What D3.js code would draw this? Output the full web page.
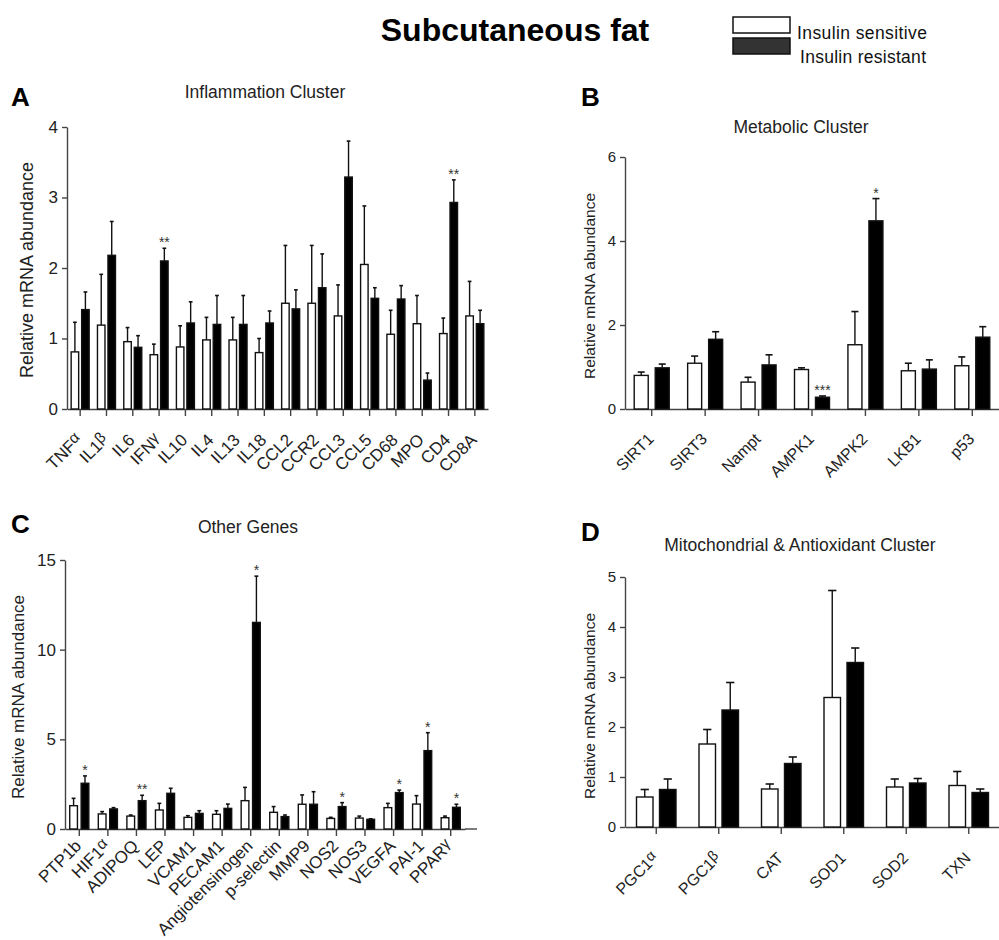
<!DOCTYPE html>
<html>
<head>
<meta charset="utf-8">
<script src="https://cdn.jsdelivr.net/npm/d3@7"></script>
<style>
  html, body { margin: 0; padding: 0; background: #fff; }
  svg { display: block; font-family: "Liberation Sans", Arial, Helvetica, sans-serif; }
</style>
</head>
<body>
<svg id="chart" width="999" height="940"></svg>
<script>
// ---------------- DATA ----------------
const seriesNames = ["Insulin sensitive", "Insulin resistant"];

// Panel A: Inflammation Cluster
const catsA = ["TNFα","IL1β","IL6","IFNγ","IL10","IL4","IL13","IL18","CCL2","CCR2","CCL3","CCL5","CD68","MPO","CD4","CD8A"];
const sensA    = [0.81, 1.19, 0.955, 0.77, 0.88, 0.98, 0.98, 0.80, 1.50, 1.50, 1.32, 2.05, 1.06, 1.21, 1.07, 1.32];
const sensErrA = [0.42, 0.72, 0.20, 0.15, 0.30, 0.32, 0.32, 0.20, 0.82, 0.82, 0.44, 0.83, 0.34, 0.40, 0.22, 0.49];
const resA     = [1.41, 2.18, 0.875, 2.10, 1.22, 1.20, 1.20, 1.22, 1.42, 1.72, 3.29, 1.57, 1.56, 0.41, 2.93, 1.21];
const resErrA  = [0.25, 0.48, 0.165, 0.18, 0.30, 0.41, 0.41, 0.17, 0.27, 0.48, 0.51, 0.15, 0.19, 0.10, 0.32, 0.19];
const starsA   = ["","","","**","","","","","","","","","","","**",""];
const ticksA   = [0, 1, 2, 3, 4];

// Panel B: Metabolic Cluster
const catsB = ["SIRT1","SIRT3","Nampt","AMPK1","AMPK2","LKB1","p53"];
const sensB    = [0.80, 1.09, 0.64, 0.94, 1.53, 0.91, 1.03];
const sensErrB = [0.08, 0.17, 0.115, 0.04, 0.79, 0.18, 0.21];
const resB     = [0.98, 1.66, 1.05, 0.28, 4.48, 0.95, 1.71];
const resErrB  = [0.09, 0.18, 0.24, 0.03, 0.53, 0.22, 0.25];
const starsB   = ["","","","***","*","",""];
const ticksB   = [0, 2, 4, 6];

// Panel C: Other Genes
const catsC = ["PTP1b","HIF1α","ADIPOQ","LEP","VCAM1","PECAM1","Angiotensinogen","p-selectin","MMP9","NOS2","NOS3","VEGFA","PAI-1","PPARγ"];
const sensC    = [1.30, 0.84, 0.72, 1.06, 0.65, 0.82, 1.58, 0.93, 1.38, 0.59, 0.61, 1.19, 1.39, 0.63];
const sensErrC = [0.41, 0.13, 0.06, 0.37, 0.09, 0.20, 0.74, 0.32, 0.52, 0.06, 0.11, 0.24, 0.47, 0.09];
const resC     = [2.55, 1.12, 1.58, 1.99, 0.87, 1.15, 11.52, 0.69, 1.38, 1.25, 0.54, 2.03, 4.37, 1.21];
const resErrC  = [0.41, 0.07, 0.30, 0.28, 0.15, 0.24, 2.58, 0.09, 0.70, 0.22, 0.03, 0.14, 1.00, 0.17];
const starsC   = ["*","","**","","","","*","","","*","","*","*","*"];
const ticksC   = [0, 5, 10, 15];

// Panel D: Mitochondrial & Antioxidant Cluster
const catsD = ["PGC1α","PGC1β","CAT","SOD1","SOD2","TXN"];
const sensD    = [0.60, 1.66, 0.76, 2.59, 0.80, 0.83];
const sensErrD = [0.15, 0.29, 0.10, 2.14, 0.16, 0.28];
const resD     = [0.75, 2.34, 1.27, 3.29, 0.88, 0.69];
const resErrD  = [0.21, 0.55, 0.13, 0.29, 0.09, 0.07];
const starsD   = ["","","","","",""];
const ticksD   = [0, 1, 2, 3, 4, 5];

const yTitle = "Relative mRNA abundance";

// ---------------- LAYOUT ----------------
const svg = d3.select("#chart");
const FONT = '"Liberation Sans", Arial, Helvetica, sans-serif';
const AXIS_COLOR = "#444";

// Title
svg.append("text").attr("x", 515).attr("y", 41).attr("text-anchor", "middle")
  .attr("font-size", 32).attr("font-weight", "bold").attr("fill", "#000")
  .text("Subcutaneous fat");

// Legend
const legend = svg.append("g");
legend.append("rect").attr("x", 733).attr("y", 17).attr("width", 57).attr("height", 16)
  .attr("fill", "#fff").attr("stroke", "#111").attr("stroke-width", 1.5);
legend.append("rect").attr("x", 733).attr("y", 38).attr("width", 57).attr("height", 16)
  .attr("fill", "#333").attr("stroke", "#111").attr("stroke-width", 1.5);
legend.append("text").attr("x", 797).attr("y", 39).attr("font-size", 17.5).attr("fill", "#111")
  .attr("textLength", 130).text(seriesNames[0]);
legend.append("text").attr("x", 800).attr("y", 63).attr("font-size", 17.5).attr("fill", "#111")
  .attr("textLength", 126).text(seriesNames[1]);

function labelWithGreek(sel, label) {
  const m = label.match(/^(.*?)([αβγ])$/);
  if (m) {
    sel.append("tspan").text(m[1]);
    sel.append("tspan").attr("font-size", "0.9em").attr("dy", "-0.25em").text(m[2]);
  } else {
    sel.text(label);
  }
}

function drawPanel(cfg, cats, sens, sensErr, res, resErr, stars, ticks) {
  const g = svg.append("g");
  const x = d3.scaleBand().domain(cats).range([cfg.left, cfg.right]).padding(0);
  const y = d3.scaleLinear().domain([0, ticks[ticks.length - 1]]).range([cfg.bottom, cfg.top]);

  // panel letter
  g.append("text").attr("x", cfg.letterX).attr("y", cfg.letterY).attr("font-size", 26)
    .attr("font-weight", "bold").attr("fill", "#000").text(cfg.letter);
  // subtitle
  g.append("text").attr("x", cfg.subX).attr("y", cfg.subY).attr("text-anchor", "middle")
    .attr("font-size", 17.5).attr("fill", "#222").text(cfg.subtitle);
  // y title
  g.append("text").attr("transform", `translate(${cfg.yTitleX},${cfg.yTitleY}) rotate(-90)`)
    .attr("text-anchor", "middle").attr("font-size", cfg.yTitleSize).attr("fill", "#222")
    .text(yTitle);

  // y axis
  const yAxis = d3.axisLeft(y).tickValues(ticks).tickFormat(d3.format("d")).tickSize(5).tickSizeOuter(0).tickPadding(4);
  const ya = g.append("g").attr("transform", `translate(${cfg.left},0)`).call(yAxis);
  ya.selectAll("path, line").attr("stroke", AXIS_COLOR).attr("stroke-width", 1.4);
  ya.selectAll("text").attr("font-size", cfg.tickSize).attr("fill", "#222").attr("font-family", FONT);

  // x axis
  const xAxis = d3.axisBottom(x).tickFormat("").tickSize(7).tickSizeOuter(0);
  const xa = g.append("g").attr("transform", `translate(0,${cfg.bottom})`).call(xAxis);
  xa.selectAll("path, line").attr("stroke", AXIS_COLOR).attr("stroke-width", 1.4);
  if (cfg.axisEnd > cfg.right) {
    g.append("line").attr("x1", cfg.right).attr("x2", cfg.axisEnd)
      .attr("y1", cfg.bottom).attr("y2", cfg.bottom).attr("stroke", AXIS_COLOR).attr("stroke-width", 1.4);
  }

  // x labels
  cats.forEach(c => {
    const cx = x(c) + x.bandwidth() / 2;
    const t = g.append("text")
      .attr("transform", `translate(${cx + 3},${cfg.bottom + cfg.labelOff}) rotate(-45)`)
      .attr("text-anchor", "end").attr("font-size", cfg.labelSize).attr("fill", "#222");
    labelWithGreek(t, c);
  });

  // bars
  const series = [
    { vals: sens, errs: sensErr, fill: "#fff", side: -1 },
    { vals: res, errs: resErr, fill: "#000", side: 1 }
  ];
  const bw = cfg.barW, gap = cfg.gap;
  series.forEach(s => {
    cats.forEach((c, i) => {
      const cx = x(c) + x.bandwidth() / 2;
      const x0 = s.side < 0 ? cx - gap / 2 - bw : cx + gap / 2;
      const v = s.vals[i], e = s.errs[i];
      const mid = x0 + bw / 2;
      const cap = Math.max(3.5, bw * 0.5);
      g.append("line").attr("x1", mid).attr("x2", mid).attr("y1", y(v)).attr("y2", y(v + e))
        .attr("stroke", "#111").attr("stroke-width", 1.4);
      g.append("line").attr("x1", mid - cap / 2).attr("x2", mid + cap / 2).attr("y1", y(v + e)).attr("y2", y(v + e))
        .attr("stroke", "#111").attr("stroke-width", 1.6);
      g.append("rect").attr("x", x0).attr("y", y(v)).attr("width", bw).attr("height", cfg.bottom - y(v))
        .attr("fill", s.fill).attr("stroke", "#111").attr("stroke-width", 1.4);
      if (s.side > 0 && stars[i]) {
        g.append("text").attr("x", mid).attr("y", y(v + e) - 1).attr("text-anchor", "middle")
          .attr("font-size", 14).attr("fill", "#333").text(stars[i]);
      }
    });
  });
}

drawPanel({ letter: "A", letterX: 11, letterY: 106, subtitle: "Inflammation Cluster", subX: 265, subY: 98,
  left: 67, right: 488, axisEnd: 488, top: 127, bottom: 409, barW: 7.5, gap: 3,
  tickSize: 17, labelSize: 17, labelOff: 32, yTitleX: 33, yTitleY: 270, yTitleSize: 18 },
  catsA, sensA, sensErrA, resA, resErrA, starsA, ticksA);

drawPanel({ letter: "B", letterX: 581, letterY: 106, subtitle: "Metabolic Cluster", subX: 801, subY: 133,
  left: 625, right: 999, axisEnd: 999, top: 157, bottom: 409, barW: 14, gap: 7,
  tickSize: 15, labelSize: 16, labelOff: 31, yTitleX: 595, yTitleY: 286, yTitleSize: 15.5 },
  catsB, sensB, sensErrB, resB, resErrB, starsB, ticksB);

drawPanel({ letter: "C", letterX: 11, letterY: 533, subtitle: "Other Genes", subX: 248, subY: 533,
  left: 65, right: 465, axisEnd: 477, top: 560, bottom: 829, barW: 7.7, gap: 3.7,
  tickSize: 17, labelSize: 17, labelOff: 18, yTitleX: 24, yTitleY: 697, yTitleSize: 17 },
  catsC, sensC, sensErrC, resC, resErrC, starsC, ticksC);

drawPanel({ letter: "D", letterX: 581, letterY: 541, subtitle: "Mitochondrial & Antioxidant Cluster", subX: 800, subY: 551,
  left: 625, right: 1000, axisEnd: 1000, top: 577, bottom: 827, barW: 16.5, gap: 6.5,
  tickSize: 15, labelSize: 16, labelOff: 32, yTitleX: 595, yTitleY: 706, yTitleSize: 15.5 },
  catsD, sensD, sensErrD, resD, resErrD, starsD, ticksD);
</script>
</body>
</html>
